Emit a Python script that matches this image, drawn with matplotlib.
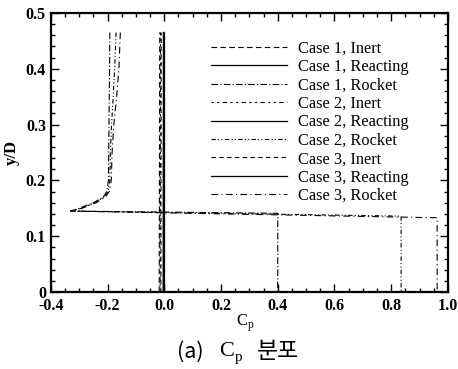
import matplotlib
matplotlib.use("Agg")
import matplotlib.pyplot as plt
from matplotlib.ticker import MultipleLocator

plt.rcParams['font.family'] = ['Liberation Serif', 'DejaVu Serif']
plt.rcParams['mathtext.fontset'] = 'custom'
plt.rcParams['mathtext.rm'] = 'Liberation Serif'

# profiles above the jump (y/D), shared by the three rocket cases
y_rocket = [0.465, 0.40, 0.35, 0.30, 0.25, 0.20, 0.18, 0.17, 0.16, 0.15, 0.145]
x_rocket1 = [-0.192, -0.193, -0.194, -0.195, -0.196, -0.197, -0.203, -0.215, -0.25, -0.30, -0.33]
x_rocket2 = [-0.170, -0.175, -0.180, -0.186, -0.190, -0.192, -0.198, -0.212, -0.245, -0.295, -0.33]
x_rocket3 = [-0.155, -0.160, -0.168, -0.178, -0.184, -0.187, -0.194, -0.208, -0.24, -0.29, -0.33]
# end of the jump: Cp reached and y/D where it drops
x_end = [0.40, 0.835, 0.962]
y_end = [0.141, 0.136, 0.133]

# inert / reacting cases: nearly vertical lines close to Cp = 0
y_wall = [0.0, 0.465]
x_inert = [[-0.018, -0.016], [-0.015, -0.013], [-0.012, -0.011]]
x_react = [[-0.004, -0.003], [-0.002, -0.001], [0.0, 0.0]]

labels = ["Case 1, Inert", "Case 1, Reacting", "Case 1, Rocket",
          "Case 2, Inert", "Case 2, Reacting", "Case 2, Rocket",
          "Case 3, Inert", "Case 3, Reacting", "Case 3, Rocket"]

W, H = 458, 369
fig = plt.figure(figsize=(W / 100, H / 100), dpi=100)
ax = fig.add_axes([0.111, 0.2087, 0.867, 0.7561])

inert_styles = [(0, (5, 3)), (0, (2, 3, 2, 3, 4, 3)), (0, (4, 3))]
rocket_styles = [(0, (6, 2, 1, 2)), (0, (4, 2, 1, 2, 1, 2)), (0, (6, 3, 1, 3))]
rocket_x = [x_rocket1, x_rocket2, x_rocket3]

for i in range(3):
    ax.plot(x_inert[i], y_wall, color='black', lw=0.8, linestyle=inert_styles[i], label=labels[3 * i])
    ax.plot(x_react[i], y_wall, color='black', lw=0.9, linestyle='-', label=labels[3 * i + 1])
    xs = rocket_x[i] + [x_end[i], x_end[i]]
    ys = y_rocket + [y_end[i], 0.0]
    ax.plot(xs, ys, color='black', lw=0.8, linestyle=rocket_styles[i], label=labels[3 * i + 2])

ax.set_xlim(-0.4, 1.0)
ax.set_ylim(0, 0.5)
ax.xaxis.set_minor_locator(MultipleLocator(0.05))
ax.yaxis.set_minor_locator(MultipleLocator(0.02))
ax.set_xticks([-0.4, -0.2, 0.0, 0.2, 0.4, 0.6, 0.8, 1.0])
ax.set_xticklabels(["-0.4", "-0.2", "0.0", "0.2", "0.4", "0.6", "0.8", "1.0"])
ax.set_yticks([0, 0.1, 0.2, 0.3, 0.4, 0.5])
ax.set_yticklabels(["0", "0.1", "0.2", "0.3", "0.4", "0.5"])
ax.tick_params(which='both', direction='in', top=True, right=True, width=1.0)
ax.tick_params(which='major', length=6, labelsize=11.5)
ax.tick_params(which='minor', length=3)
ax.tick_params(axis='x', which='major', pad=4)
for lab in ax.get_xticklabels() + ax.get_yticklabels():
    lab.set_fontweight('bold')
for sp in ax.spines.values():
    sp.set_linewidth(1.6)

ax.set_ylabel("y/D", fontsize=12, fontweight='bold', labelpad=4)
ax.set_xlabel(r"C$_\mathregular{p}$", fontsize=12, labelpad=-1)
ax.xaxis.set_label_coords(0.49, -0.075)

ax.legend(loc='upper left', bbox_to_anchor=(0.388, 0.925), frameon=False, fontsize=11.8,
          handlelength=4.6, handletextpad=0.67, labelspacing=0.15, borderaxespad=0)

# caption below the chart
fig.text(177 / W, 1 - 352 / H, "(a)", fontsize=15.5, family=['Noto Sans CJK KR'], ha='left', va='center')
fig.text(219 / W, 1 - 352 / H, "C", fontsize=16, family=['Liberation Serif'], ha='left', va='center')
fig.text(235 / W, 1 - 357 / H, "p", fontsize=11, family=['Liberation Serif'], ha='left', va='center')
fig.text(257 / W, 1 - 352 / H, "분포", fontsize=16.5, family=['Noto Sans CJK KR'], ha='left', va='center')

fig.savefig("out.png", dpi=100)
